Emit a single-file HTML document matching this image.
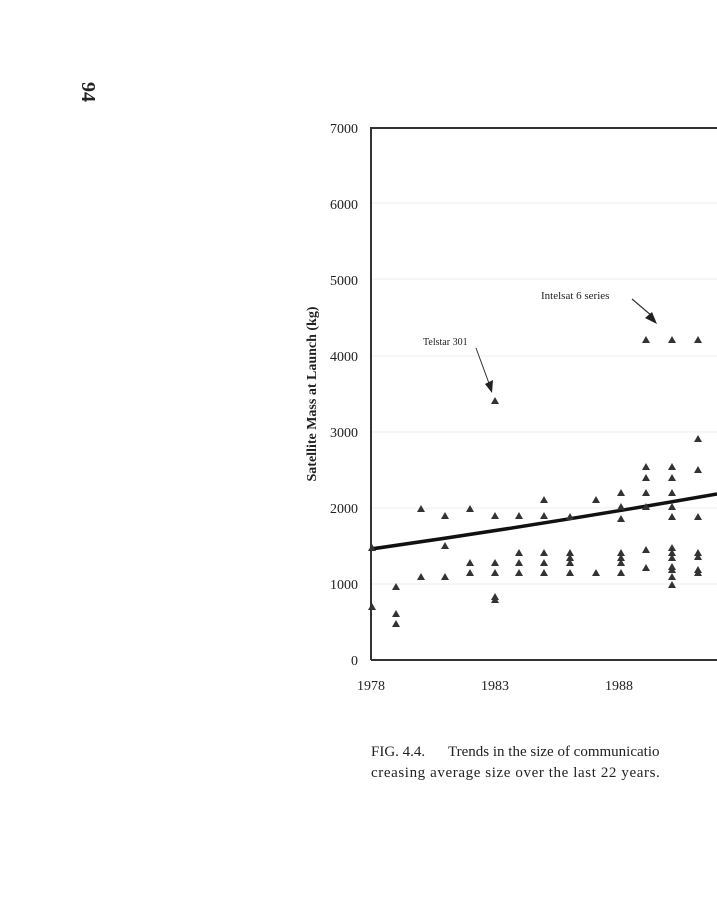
<!DOCTYPE html>
<html><head><meta charset="utf-8"><style>
html,body{margin:0;padding:0;background:#fff;width:717px;height:900px;overflow:hidden}
svg{display:block}
text{font-family:"Liberation Serif",serif;fill:#222}
</style></head><body>
<svg width="717" height="900" viewBox="0 0 717 900" xmlns="http://www.w3.org/2000/svg">
<defs><path id="t" d="M0,-4 L4,3 L-4,3 Z" fill="#333"/></defs>
<text transform="translate(82,92) rotate(90)" font-size="20" font-weight="bold" text-anchor="middle">94</text>
<!-- gridlines faint -->
<g stroke="#eee" stroke-width="1">
<line x1="371" y1="203" x2="717" y2="203"/><line x1="371" y1="279" x2="717" y2="279"/>
<line x1="371" y1="356" x2="717" y2="356"/><line x1="371" y1="432" x2="717" y2="432"/>
<line x1="371" y1="508" x2="717" y2="508"/><line x1="371" y1="584" x2="717" y2="584"/>
</g>
<!-- axes -->
<path d="M371,660 L371,128 L717,128" fill="none" stroke="#333" stroke-width="2"/>
<line x1="371" y1="660" x2="717" y2="660" stroke="#333" stroke-width="2"/>
<g font-size="14" text-anchor="end">
<text x="358" y="133">7000</text><text x="358" y="209">6000</text><text x="358" y="285">5000</text>
<text x="358" y="361">4000</text><text x="358" y="437">3000</text><text x="358" y="513">2000</text>
<text x="358" y="589">1000</text><text x="358" y="665">0</text>
</g>
<g font-size="14" text-anchor="middle">
<text x="371" y="690">1978</text><text x="495" y="690">1983</text><text x="619" y="690">1988</text>
</g>
<text transform="translate(316,394) rotate(-90)" font-size="14" font-weight="bold" text-anchor="middle">Satellite Mass at Launch (kg)</text>
<!-- trend -->
<path d="M371,549 Q540,525 717,494" fill="none" stroke="#111" stroke-width="3.5"/>
<!-- annotations -->
<text x="423" y="345" font-size="10">Telstar 301</text>
<line x1="476" y1="348" x2="490" y2="386" stroke="#333" stroke-width="1"/>
<path d="M485,384 L492,393 L493,380 Z" fill="#222"/>
<text x="541" y="299" font-size="11">Intelsat 6 series</text>
<line x1="632" y1="299" x2="652" y2="316" stroke="#333" stroke-width="1.2"/>
<path d="M645,318 L657,324 L652,312 Z" fill="#222"/>
<!-- points -->
<g>
<use href="#t" x="372" y="607"/><use href="#t" x="372" y="548"/>
<use href="#t" x="396" y="587"/><use href="#t" x="396" y="614"/><use href="#t" x="396" y="624"/>
<use href="#t" x="421" y="509"/><use href="#t" x="421" y="577"/>
<use href="#t" x="445" y="516"/><use href="#t" x="445" y="546"/><use href="#t" x="445" y="577"/>
<use href="#t" x="470" y="509"/><use href="#t" x="470" y="563"/><use href="#t" x="470" y="573"/>
<use href="#t" x="495" y="516"/><use href="#t" x="495" y="563"/><use href="#t" x="495" y="573"/><use href="#t" x="495" y="597"/><use href="#t" x="495" y="600"/><use href="#t" x="495" y="401"/>
<use href="#t" x="519" y="516"/><use href="#t" x="519" y="553"/><use href="#t" x="519" y="563"/><use href="#t" x="519" y="573"/>
<use href="#t" x="544" y="500"/><use href="#t" x="544" y="516"/><use href="#t" x="544" y="553"/><use href="#t" x="544" y="563"/><use href="#t" x="544" y="573"/>
<use href="#t" x="570" y="517"/><use href="#t" x="570" y="553"/><use href="#t" x="570" y="558"/><use href="#t" x="570" y="563"/><use href="#t" x="570" y="573"/>
<use href="#t" x="596" y="500"/><use href="#t" x="596" y="573"/>
<use href="#t" x="621" y="493"/><use href="#t" x="621" y="507"/><use href="#t" x="621" y="519"/><use href="#t" x="621" y="553"/><use href="#t" x="621" y="558"/><use href="#t" x="621" y="563"/><use href="#t" x="621" y="573"/>
<use href="#t" x="646" y="467"/><use href="#t" x="646" y="478"/><use href="#t" x="646" y="493"/><use href="#t" x="646" y="507"/><use href="#t" x="646" y="550"/><use href="#t" x="646" y="568"/><use href="#t" x="646" y="340"/>
<use href="#t" x="672" y="467"/><use href="#t" x="672" y="478"/><use href="#t" x="672" y="493"/><use href="#t" x="672" y="507"/><use href="#t" x="672" y="517"/><use href="#t" x="672" y="548"/><use href="#t" x="672" y="553"/><use href="#t" x="672" y="558"/><use href="#t" x="672" y="567"/><use href="#t" x="672" y="570"/><use href="#t" x="672" y="577"/><use href="#t" x="672" y="585"/><use href="#t" x="672" y="340"/>
<use href="#t" x="698" y="439"/><use href="#t" x="698" y="470"/><use href="#t" x="698" y="517"/><use href="#t" x="698" y="553"/><use href="#t" x="698" y="557"/><use href="#t" x="698" y="570"/><use href="#t" x="698" y="573"/><use href="#t" x="698" y="340"/>
</g>
<text x="371" y="756" font-size="15">FIG. 4.4.<tspan x="448">Trends in the size of communicatio</tspan></text>
<text x="371" y="777" font-size="15" letter-spacing="0.6">creasing average size over the last 22 years.</text>
</svg>
</body></html>
